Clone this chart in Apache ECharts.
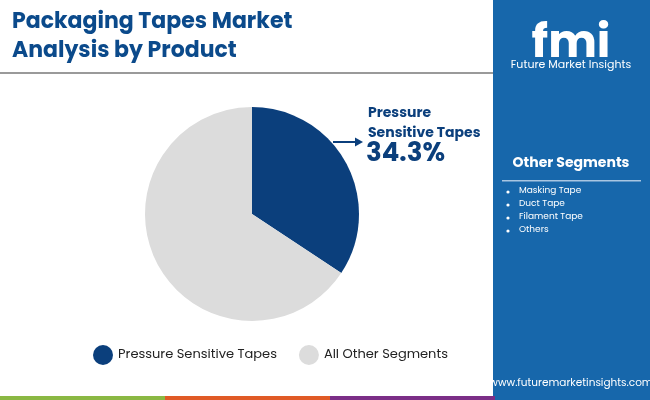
<!DOCTYPE html><html><head><meta charset="utf-8"><script src="https://cdn.jsdelivr.net/npm/echarts@6/dist/echarts.min.js"></script>
<style>html,body{margin:0;padding:0;background:#fff}#c{width:650px;height:400px}</style></head><body><div id="c"></div><script>
const categories=['Pressure Sensitive Tapes','All Other Segments'];
const values=[34.3,65.7];
const colors=['#0b3f7c','#dcdcdc'];
const otherSegments=['Masking Tape','Duct Tape','Filament Tape','Others'];
const chart=echarts.init(document.getElementById('c'));
const F='Poppins, "Open Sans", Roboto, sans-serif';
const g=[
 {type:'text',left:12,top:8,style:{text:'Packaging Tapes Market\nAnalysis by Product',fill:'#0b4a8b',font:'bold 22px '+F,lineHeight:29}},
 {type:'rect',shape:{x:0,y:72,width:493,height:2},style:{fill:'#9a9a9a'}},
 {type:'rect',shape:{x:493,y:0,width:157,height:400},style:{fill:'#1767ab'}},
 {type:'text',x:571,y:22,style:{text:'fmi',fill:'#fff',font:'bold 46px '+F,textAlign:'center'}},
 {type:'text',x:571,y:60,style:{text:'Future Market Insights',fill:'#fff',font:'11px '+F,textAlign:'center'}},
 {type:'text',x:571,y:156,style:{text:'Other Segments',fill:'#fff',font:'bold 14px '+F,textAlign:'center'}},
 {type:'rect',shape:{x:502,y:180,width:139,height:1.5},style:{fill:'#a9c6e2'}},
 {type:'text',x:571,y:378,style:{text:'www.futuremarketinsights.com',fill:'#fff',font:'10.5px '+F,textAlign:'center'}},
 {type:'rect',shape:{x:0,y:396,width:165,height:4},style:{fill:'#8ab843'}},
 {type:'rect',shape:{x:165,y:396,width:165,height:4},style:{fill:'#e05a26'}},
 {type:'rect',shape:{x:330,y:396,width:165,height:4},style:{fill:'#7b2e87'}},
 {type:'text',left:368,top:103,style:{text:'Pressure\nSensitive Tapes',fill:'#0b3f7c',font:'bold 14px '+F,lineHeight:20}},
 {type:'text',left:366,top:141,style:{text:values[0].toFixed(1)+'%',fill:'#0b3f7c',font:'bold 26px '+F}},
 {type:'line',shape:{x1:333,y1:142,x2:358,y2:142},style:{stroke:'#0b3f7c',lineWidth:2}},
 {type:'polygon',shape:{points:[[363,142],[355,137.5],[355,146.5]]},style:{fill:'#0b3f7c'}}
];
otherSegments.forEach((s,i)=>{
 g.push({type:'circle',shape:{cx:508,cy:192+i*13,r:1.6},style:{fill:'#fff'}});
 g.push({type:'text',x:519,y:186+i*13,style:{text:s,fill:'#fff',font:'9px '+F}});
});
chart.setOption({
 animation:false,
 legend:{bottom:30,left:88,itemGap:22,icon:'circle',itemWidth:20,itemHeight:20,textStyle:{fontSize:13,color:'#222',fontFamily:F},data:categories},
 series:[{type:'pie',center:[252,214],radius:[0,107],startAngle:90,clockwise:true,label:{show:false},labelLine:{show:false},
  data:categories.map((c,i)=>({name:c,value:values[i],itemStyle:{color:colors[i]}}))}],
 graphic:g
});
</script></body></html>
